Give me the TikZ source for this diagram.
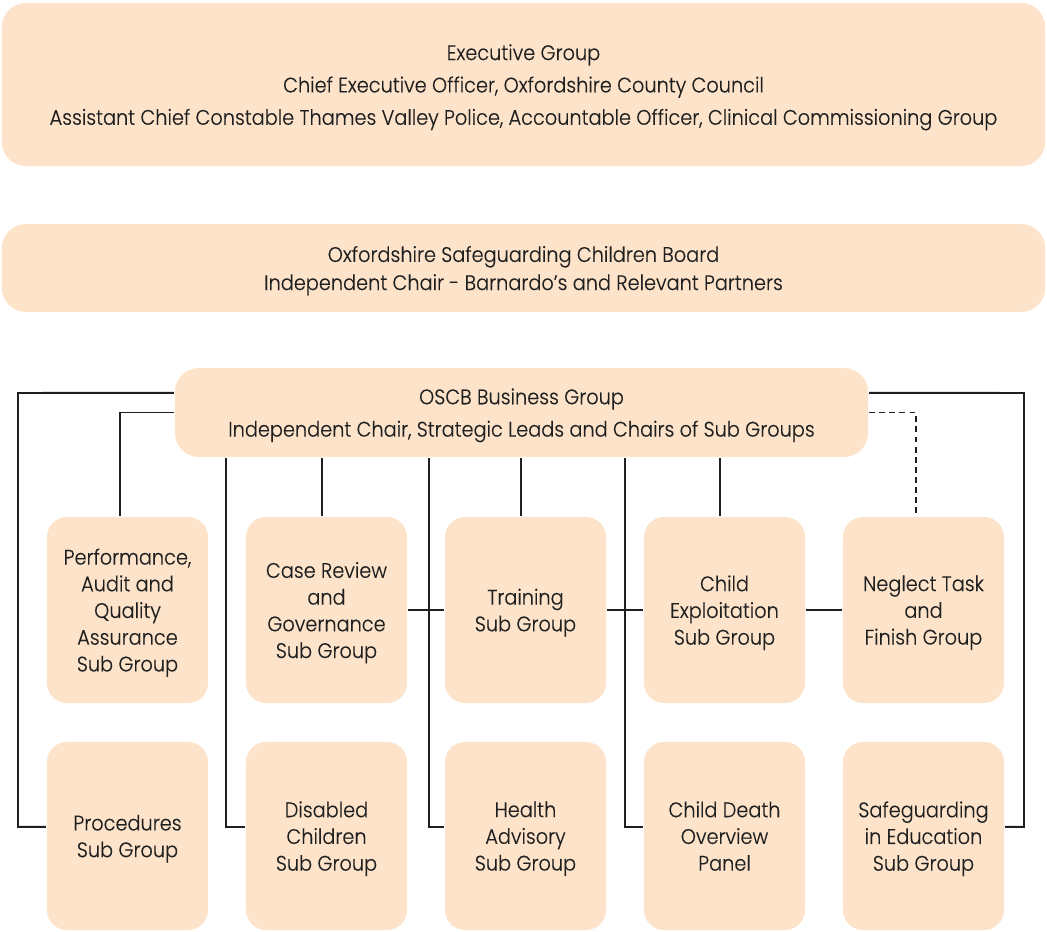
\documentclass[tikz,border=0pt]{standalone}
\usepackage{fontspec}
\setmainfont{Poppins Light}[FakeStretch=0.915, FakeBold=0.3]
\usetikzlibrary{backgrounds}
\definecolor{cpeach}{HTML}{FCE3CA}
\definecolor{cink}{HTML}{1F1F1F}
\tikzset{
  every picture/.style={font=\fontsize{15}{19}\selectfont, line width=1.4pt},
  band/.style={fill=cpeach, text=cink, rounded corners=#1, align=center, inner sep=0pt, text depth=0pt},
  band/.default=6mm,
  group/.style={band=5mm, minimum width=4.025cm},
  link/.style={draw=cink, line width=1.4pt},
  maybe/.style={link, dashed, dash pattern=on 4.2pt off 3pt},
}

\begin{document}
\begin{tikzpicture}[x=0.025cm, y=-0.025cm]
  \useasboundingbox (0,0) rectangle (1047,932);
  % board level bands
  \node[band, minimum width=26.075cm, minimum height=4.075cm, font=\fontsize{15}{23}\selectfont] (exec) at (523.5,84.5)
    {Executive Group\\Chief Executive Officer, Oxfordshire County Council\\Assistant Chief Constable Thames Valley Police, Accountable Officer, Clinical Commissioning Group};
  \node[band, minimum width=26.075cm, minimum height=2.2cm, font=\fontsize{15}{20}\selectfont] (board) at (523.5,268)
    {Oxfordshire Safeguarding Children Board\\Independent Chair - Barnardo’s and Relevant Partners};
  \node[band, minimum width=17.325cm, minimum height=2.225cm, font=\fontsize{15}{23}\selectfont] (business) at (521.5,412.5)
    {OSCB Business Group\\Independent Chair, Strategic Leads and Chairs of Sub Groups};
  % sub groups, top row
  \foreach \name/\x/\txt in {perf/127.5/{Performance,\\Audit and\\Quality\\Assurance\\Sub Group},
      casereview/326.5/{Case Review\\and\\Governance\\Sub Group}, training/525.5/{Training\\Sub Group},
      exploit/724.5/{Child\\Exploitation\\Sub Group}, neglect/923.5/{Neglect Task\\and\\Finish Group}}
    \node[group, minimum height=4.65cm] (\name) at (\x,610) {\txt};
  % sub groups, bottom row
  \foreach \name/\x/\txt in {procedures/127.5/{Procedures\\Sub Group}, disabled/326.5/{Disabled\\Children\\Sub Group},
      health/525.5/{Health\\Advisory\\Sub Group}, cdop/724.5/{Child Death\\Overview\\Panel},
      education/923.5/{Safeguarding\\in Education\\Sub Group}}
    \node[group, minimum height=4.7cm] (\name) at (\x,836) {\txt};
  % rails and bends
  \coordinate (lrail) at (18,393);
  \coordinate (rrail) at (1024,393);
  \coordinate (m1) at (226,0);
  \coordinate (m2) at (429,0);
  \coordinate (m3) at (625,0);
  \begin{scope}[on background layer]
    \draw[link] ([yshift=4.9mm]business.west) -- (lrail) |- ([yshift=2.3mm]procedures.west);
    \draw[link] (business.west) -| ([xshift=-1.9mm]perf.north);
    \foreach \n in {casereview, training, exploit}
      \draw[link] ([xshift=-1.2mm]\n.north) -- ([xshift=-1.2mm]\n.north |- business.south);
    \draw[link] (m1 |- business.south) |- ([yshift=2.3mm]disabled.west);
    \draw[link] (m2 |- business.south) |- ([yshift=2.3mm]health.west);
    \draw[link] (m3 |- business.south) |- ([yshift=2.3mm]cdop.west);
    \draw[link] (casereview.east) -- (training.west);
    \draw[link] (training.east) -- (exploit.west);
    \draw[link] (exploit.east) -- (neglect.west);
    \draw[maybe] (business.east) -| ([xshift=-1.9mm]neglect.north);
    \draw[link] ([yshift=4.9mm]business.east) -- (rrail) |- ([yshift=2.3mm]education.east);
  \end{scope}
\end{tikzpicture}
\end{document}
